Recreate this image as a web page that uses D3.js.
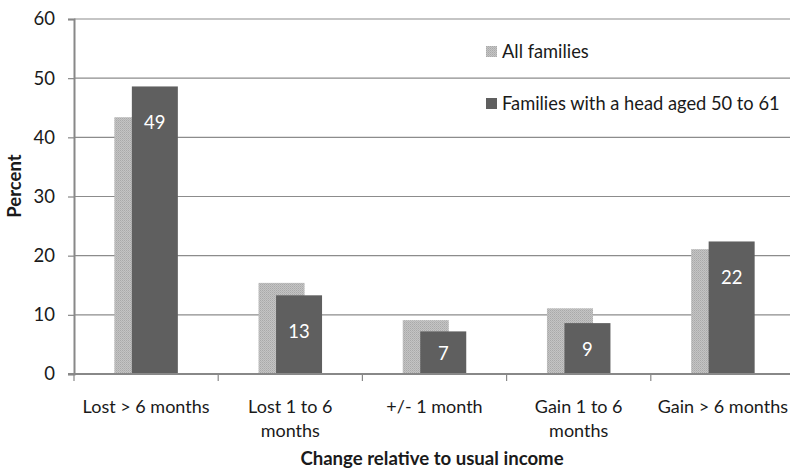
<!DOCTYPE html>
<html><head><meta charset="utf-8">
<script src="https://cdn.jsdelivr.net/npm/d3@7"></script>
<style>
html,body{margin:0;padding:0;background:#fff;}
text{font-family:Lato,"Open Sans",sans-serif;fill:#1a1a1a;}
</style></head>
<body><svg id="c" width="790" height="471"></svg>
<script>
const categories = [["Lost > 6 months"],["Lost 1 to 6","months"],["+/- 1 month"],["Gain 1 to 6","months"],["Gain > 6 months"]];
const allFamilies = [43.4, 15.4, 9.1, 11.1, 21.1];
const head50to61 = [48.6, 13.3, 7.2, 8.6, 22.4];
const headLabels = ["49","13","7","9","22"];
const yTicks = [0,10,20,30,40,50,60];
const seriesNames = ["All families","Families with a head aged 50 to 61"];

const svg = d3.select("#c");
const pLeft = 74, pRight = 795, pTop = 19, pBottom = 374;
const x = d3.scaleBand().domain(d3.range(categories.length)).range([pLeft, pRight]);
const y = d3.scaleLinear().domain([0,60]).range([pBottom, pTop]);

const defs = svg.append("defs");
const pat = defs.append("pattern").attr("id","dots").attr("width",2).attr("height",2).attr("patternUnits","userSpaceOnUse");
pat.append("rect").attr("width",2).attr("height",2).attr("fill","#c4c4c4");
pat.append("rect").attr("width",1).attr("height",1).attr("fill","#a9a9a9");
pat.append("rect").attr("x",1).attr("y",1).attr("width",1).attr("height",1).attr("fill","#b4b4b4");

// gridlines
svg.append("g").selectAll("line").data(yTicks.filter(d=>d>0)).join("line")
  .attr("x1",pLeft).attr("x2",790).attr("y1",d=>y(d)).attr("y2",d=>y(d))
  .attr("stroke","#8c8c8c").attr("stroke-width",1.2);

const bw = 46, off = 17.5;
const groupW = bw + off;
const cx = i => x(i) + x.bandwidth()/2;

svg.append("g").selectAll("rect").data(allFamilies).join("rect")
  .attr("x",(d,i)=>cx(i)-groupW/2).attr("y",d=>y(d)).attr("width",bw).attr("height",d=>pBottom-y(d))
  .attr("fill","url(#dots)");
svg.append("g").selectAll("rect").data(head50to61).join("rect")
  .attr("x",(d,i)=>cx(i)-groupW/2+off).attr("y",d=>y(d)).attr("width",bw).attr("height",d=>pBottom-y(d))
  .attr("fill","#5f5f5f");
svg.append("g").selectAll("text").data(head50to61).join("text")
  .attr("x",(d,i)=>cx(i)-groupW/2+off+bw/2)
  .attr("y",d=>y(d)+Math.min((pBottom-y(d))/2, 36))
  .attr("text-anchor","middle").attr("dominant-baseline","central")
  .style("fill","#fff").style("font-size","18.5px")
  .text((d,i)=>headLabels[i]);

// y axis
const ya = svg.append("g").attr("transform",`translate(${pLeft},0)`)
  .call(d3.axisLeft(y).tickValues(yTicks).tickSize(6).tickPadding(13));
ya.select(".domain").attr("stroke","#888").attr("stroke-width",2);
ya.selectAll(".tick line").attr("stroke","#888").attr("stroke-width",1.2);
ya.selectAll(".tick text").style("font-size","18.5px").style("fill","#1a1a1a").style("font-family","Lato");

// x axis
svg.append("line").attr("x1",pLeft-6).attr("x2",790).attr("y1",pBottom).attr("y2",pBottom).attr("stroke","#888").attr("stroke-width",2);
svg.append("g").selectAll("line").data(d3.range(categories.length+1)).join("line")
  .attr("x1",i=>pLeft+i*x.step()).attr("x2",i=>pLeft+i*x.step())
  .attr("y1",pBottom).attr("y2",pBottom+7).attr("stroke","#888").attr("stroke-width",1.2);
const xl = svg.append("g").selectAll("text").data(categories).join("text")
  .attr("text-anchor","middle").style("font-size","18px");
xl.each(function(lines,i){
  const t = d3.select(this);
  lines.forEach((ln,k)=>t.append("tspan").attr("x",cx(i)).attr("y",413+k*24).text(ln));
});

// axis titles
svg.append("text").attr("x",(pLeft+790)/2).attr("y",465).attr("text-anchor","middle")
  .style("font-size","18.6px").style("font-weight","bold").text("Change relative to usual income");
svg.append("text").attr("transform",`translate(21,186) rotate(-90)`).attr("text-anchor","middle")
  .style("font-size","18.5px").style("font-weight","bold").text("Percent");

// legend
const lg = svg.append("g");
[0,1].forEach(k=>{
  const yy = k===0 ? 51 : 103;
  lg.append("rect").attr("x",486).attr("y",yy-5).attr("width",11).attr("height",11)
    .attr("fill",k===0?"url(#dots)":"#5f5f5f");
  lg.append("text").attr("x",502).attr("y",yy).attr("dominant-baseline","central")
    .style("font-size","18.3px").text(seriesNames[k]);
});
</script></body></html>
